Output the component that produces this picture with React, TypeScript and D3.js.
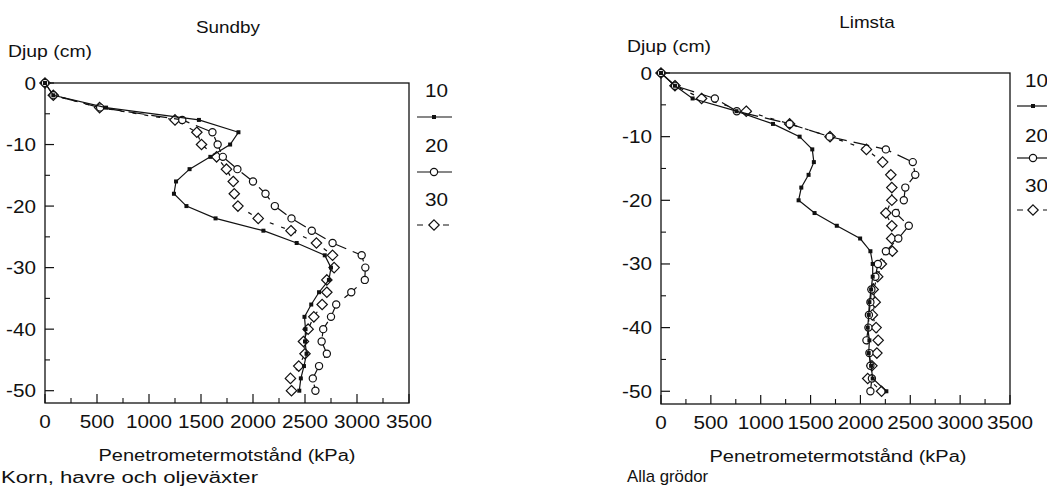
import React from 'react';
import * as d3 from 'd3';

// ---- data -------------------------------------------------------------
const depths = [0, -2, -4, -6, -8, -10, -12, -14, -16, -18, -20, -22, -24, -26, -28, -30, -32, -34, -36, -38, -40, -42, -44, -46, -48, -50];

const sundby10 = [0, 80, 587, 1480, 1860, 1780, 1590, 1390, 1260, 1240, 1360, 1640, 2100, 2420, 2690, 2750, 2730, 2635, 2560, 2495, 2505, 2500, 2515, 2490, 2460, 2445];
const sundby20 = [0, 80, 530, 1320, 1610, 1660, 1710, 1850, 2000, 2120, 2210, 2370, 2565, 2765, 3045, 3080, 3075, 2945, 2800, 2750, 2675, 2660, 2710, 2635, 2575, 2600];
const sundby30 = [0, 80, 525, 1250, 1460, 1505, 1650, 1745, 1810, 1820, 1855, 2050, 2365, 2610, 2765, 2780, 2710, 2710, 2665, 2585, 2530, 2485, 2500, 2440, 2360, 2370];

const limsta10 = [0, 140, 317, 757, 1123, 1390, 1517, 1533, 1480, 1407, 1380, 1540, 1763, 1997, 2100, 2123, 2123, 2107, 2090, 2083, 2073, 2090, 2083, 2107, 2123, 2260];
const limsta20 = [0, 140, 540, 760, 1290, 1690, 2255, 2525, 2550, 2450, 2435, 2355, 2485, 2380, 2255, 2175, 2150, 2110, 2100, 2085, 2080, 2060, 2090, 2100, 2115, 2100];
const limsta30 = [0, 140, 407, 855, 1290, 1695, 2060, 2223, 2305, 2315, 2315, 2255, 2315, 2313, 2320, 2210, 2173, 2128, 2148, 2120, 2157, 2178, 2165, 2115, 2073, 2212];

const xTicks = [0, 500, 1000, 1500, 2000, 2500, 3000, 3500];
const xMinorTicks = [250, 750, 1250, 1750, 2250, 2750, 3250];
const yTicks = [0, -10, -20, -30, -40, -50];
const yMinorTicks = [-5, -15, -25, -35, -45];
const seriesNames = ['10', '20', '30'];

const FONT = "'Liberation Sans', Arial, Helvetica, sans-serif";

type Geo = {
  x0: number; x1: number; yTop: number; yBot: number;
  title: string; titleX: number; titleY: number;
  yLabX: number; yLabY: number;
  xTitleX: number; xTitleY: number;
  noteX: number; noteY: number; note: string; noteW?: number;
  xTickY: number;
  legX: number; legText: number[]; legLine: number[]; legL0: number; legL1: number; legM: number;
};

const T = ({ x, y, size, anchor = 'start', sx = 1.15, children, len }: any) => (
  <text
    transform={`translate(${x},${y}) scale(${len ? 1 : sx},1)`}
    fontSize={size}
    fontFamily={FONT}
    textAnchor={anchor}
    fill="#111"
    textLength={len}
    lengthAdjust={len ? 'spacingAndGlyphs' : undefined}
  >
    {children}
  </text>
);

const Marker = ({ kind, cx, cy }: { kind: number; cx: number; cy: number }) => {
  if (kind === 0) return <rect x={cx - 2} y={cy - 2} width={4} height={4} fill="#111" />;
  if (kind === 1) return <circle cx={cx} cy={cy} r={3.6} fill="#fff" stroke="#111" strokeWidth={1.2} />;
  const r = 5.2;
  return (
    <path
      d={`M${cx},${cy - r}L${cx + r},${cy}L${cx},${cy + r}L${cx - r},${cy}Z`}
      fill="#fff"
      stroke="#111"
      strokeWidth={1.2}
    />
  );
};

const dashes = [undefined, '16 7', '4 8'];

function Chart({ g, series }: { g: Geo; series: number[][] }) {
  const x = d3.scaleLinear().domain([0, 3500]).range([g.x0, g.x1]);
  const y = d3.scaleLinear().domain([-52, 0]).range([g.yBot, g.yTop]);
  const line = d3
    .line<[number, number]>()
    .x((p) => x(p[0]))
    .y((p) => y(p[1]));
  const order = [2, 1, 0];
  return (
    <g>
      <rect x={g.x0} y={g.yTop} width={g.x1 - g.x0} height={g.yBot - g.yTop} fill="none" stroke="#111" strokeWidth={1.3} />
      {yTicks.map((t) => (
        <g key={'y' + t}>
          <line x1={g.x0} x2={g.x0 + 9} y1={y(t)} y2={y(t)} stroke="#111" strokeWidth={1.2} />
          <T x={g.x0 - 9} y={y(t) + 6.5} size={18} anchor="end">{t === 0 ? '0' : '-' + Math.abs(t)}</T>
        </g>
      ))}
      {yMinorTicks.map((t) => (
        <line key={'ym' + t} x1={g.x0} x2={g.x0 + 5} y1={y(t)} y2={y(t)} stroke="#111" strokeWidth={1.1} />
      ))}
      {xTicks.map((t) => (
        <g key={'x' + t}>
          <line x1={x(t)} x2={x(t)} y1={g.yBot} y2={g.yBot - 9} stroke="#111" strokeWidth={1.2} />
          <T x={x(t)} y={g.xTickY} size={18} anchor="middle">{String(t)}</T>
        </g>
      ))}
      {xMinorTicks.map((t) => (
        <line key={'xm' + t} x1={x(t)} x2={x(t)} y1={g.yBot} y2={g.yBot - 5} stroke="#111" strokeWidth={1.1} />
      ))}
      {order.map((k) => {
        const pts: [number, number][] = series[k].map((v, i) => [v, depths[i]]);
        return (
          <g key={'s' + k}>
            <path d={line(pts) || ''} fill="none" stroke="#111" strokeWidth={1.2} strokeDasharray={dashes[k]} />
            {pts.map((p, i) => (
              <Marker key={i} kind={k} cx={x(p[0])} cy={y(p[1])} />
            ))}
          </g>
        );
      })}
      {seriesNames.map((s, k) => (
        <g key={'l' + k}>
          <T x={g.legX} y={g.legText[k]} size={18}>{s}</T>
          <line x1={g.legL0} x2={g.legL1} y1={g.legLine[k]} y2={g.legLine[k]} stroke="#111" strokeWidth={1.2} strokeDasharray={k === 2 ? '6 20' : undefined} />
          <Marker kind={k} cx={g.legM} cy={g.legLine[k]} />
        </g>
      ))}
      <T x={g.titleX} y={g.titleY} size={16} anchor="middle" sx={1.18}>{g.title}</T>
      <T x={g.yLabX} y={g.yLabY} size={16} len={84}>Djup (cm)</T>
      <T x={g.xTitleX} y={g.xTitleY} size={16} anchor="middle" len={257}>Penetrometermotstånd (kPa)</T>
      <T x={g.noteX} y={g.noteY} size={16} len={g.noteW} sx={1.05}>{g.note}</T>
    </g>
  );
}

const left: Geo = {
  x0: 45, x1: 409, yTop: 83, yBot: 403,
  title: 'Sundby', titleX: 228, titleY: 33,
  yLabX: 8, yLabY: 57,
  xTitleX: 227, xTitleY: 461,
  noteX: 1, noteY: 483, note: 'Korn, havre och oljeväxter', noteW: 257,
  xTickY: 428,
  legX: 425, legText: [97, 152, 206], legLine: [117, 172, 225], legL0: 417, legL1: 452, legM: 434,
};

const right: Geo = {
  x0: 661, x1: 1010, yTop: 73, yBot: 404,
  title: 'Limsta', titleX: 867, titleY: 28,
  yLabX: 627, yLabY: 52,
  xTitleX: 838, xTitleY: 462,
  noteX: 627, noteY: 482, note: 'Alla grödor',
  xTickY: 429,
  legX: 1025, legText: [87, 142, 192], legLine: [106, 158, 210], legL0: 1017, legL1: 1047, legM: 1033,
};

export default function App() {
  return (
    <svg width={1047} height={488} style={{ position: 'absolute', left: 0, top: 0, background: '#fff' }}>
      <rect x={0} y={0} width={1047} height={488} fill="#fff" />
      <Chart g={left} series={[sundby10, sundby20, sundby30]} />
      <Chart g={right} series={[limsta10, limsta20, limsta30]} />
    </svg>
  );
}
